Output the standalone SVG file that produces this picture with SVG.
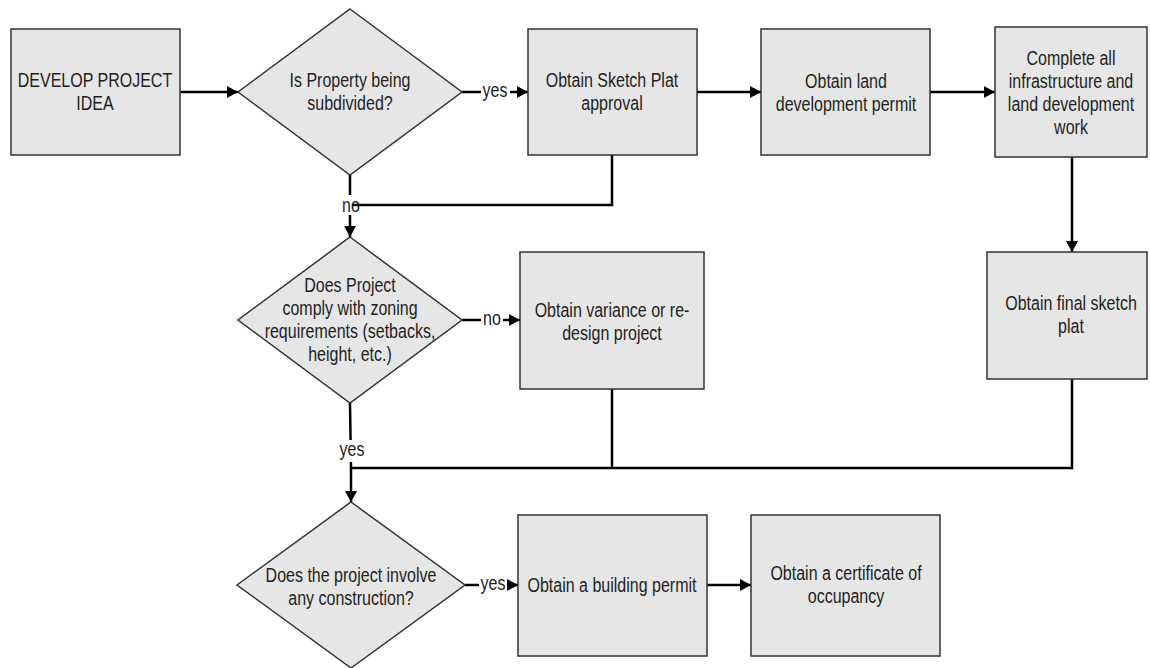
<svg xmlns="http://www.w3.org/2000/svg" width="1150" height="668" viewBox="0 0 1150 668">
<style>
.box{fill:#e6e6e6;stroke:#333;stroke-width:1.5}
.t{font-family:"Liberation Sans",Arial,sans-serif;font-size:20px;fill:#1e1e1e;text-anchor:middle}
.c{fill:none;stroke:#000;stroke-width:2.5}
.a{marker-end:url(#ah)}
.bg{fill:#fff}
</style>
<defs>
<marker id="ah" markerUnits="userSpaceOnUse" markerWidth="11" markerHeight="12" refX="11" refY="6" orient="auto">
<path d="M0,0 L11,6 L0,12 z" fill="#000"/>
</marker>
</defs>
<rect width="1150" height="668" fill="#fff"/>

<g id="connectors">
<line class="c a" x1="180" y1="92" x2="238" y2="92"/>
<line class="c a" x1="462" y1="92" x2="528" y2="92"/>
<line class="c a" x1="697" y1="92" x2="761" y2="92"/>
<line class="c a" x1="930" y1="92" x2="995" y2="92"/>
<line class="c a" x1="1072" y1="157" x2="1072" y2="252"/>
<line class="c a" x1="350" y1="175" x2="350" y2="237"/>
<rect class="bg" x="341" y="195" width="20" height="20"/>
<polyline class="c" points="612,155 612,205 352,205"/>
<line class="c a" x1="462" y1="320" x2="520" y2="320"/>
<polyline class="c a" points="350,403 351,468 351,502"/>
<line class="c" x1="612" y1="389" x2="612" y2="468"/>
<polyline class="c" points="1072,379 1072,468 351,468"/>
<line class="c a" x1="465" y1="585" x2="518" y2="585"/>
<line class="c a" x1="707" y1="585" x2="751" y2="585"/>
<rect class="bg" x="481" y="83" width="29" height="18"/>
<rect class="bg" x="481" y="311" width="22" height="18"/>
<rect class="bg" x="337" y="440" width="30" height="22"/>
<rect class="bg" x="479" y="576" width="28" height="18"/>
<text class="t" transform="translate(495 0) scale(0.8 1)"><tspan x="0" y="97">yes</tspan></text>
<text class="t" transform="translate(351 0) scale(0.8 1)"><tspan x="0" y="212">no</tspan></text>
<text class="t" transform="translate(492 0) scale(0.8 1)"><tspan x="0" y="325">no</tspan></text>
<text class="t" transform="translate(352 0) scale(0.8 1)"><tspan x="0" y="456">yes</tspan></text>
<text class="t" transform="translate(493 0) scale(0.8 1)"><tspan x="0" y="590">yes</tspan></text>
</g>

<g id="develop">
<rect class="box" x="11" y="29" width="169" height="126"/>
<text class="t" transform="translate(95 0) scale(0.8 1)"><tspan x="0" y="87">DEVELOP PROJECT</tspan><tspan x="0" y="110">IDEA</tspan></text>
</g>

<g id="subdivided">
<polygon class="box" points="350,9 462,92 350,175 238,92"/>
<text class="t" transform="translate(350 0) scale(0.8 1)"><tspan x="0" y="87">Is Property being</tspan><tspan x="0" y="110">subdivided?</tspan></text>
</g>

<g id="sketchplat">
<rect class="box" x="528" y="29" width="169" height="126"/>
<text class="t" transform="translate(612 0) scale(0.8 1)"><tspan x="0" y="87">Obtain Sketch Plat</tspan><tspan x="0" y="110">approval</tspan></text>
</g>

<g id="landpermit">
<rect class="box" x="761" y="29" width="169" height="126"/>
<text class="t" transform="translate(846 0) scale(0.8 1)"><tspan x="0" y="88">Obtain land</tspan><tspan x="0" y="111">development permit</tspan></text>
</g>

<g id="infrastructure">
<rect class="box" x="995" y="27" width="152" height="130"/>
<text class="t" transform="translate(1071 0) scale(0.8 1)"><tspan x="0" y="65">Complete all</tspan><tspan x="0" y="88">infrastructure and</tspan><tspan x="0" y="111">land development</tspan><tspan x="0" y="134">work</tspan></text>
</g>

<g id="finalplat">
<rect class="box" x="987" y="252" width="160" height="127"/>
<text class="t" transform="translate(1071 0) scale(0.8 1)"><tspan x="0" y="310">Obtain final sketch</tspan><tspan x="0" y="333">plat</tspan></text>
</g>

<g id="zoning">
<polygon class="box" points="350,237 462,320 350,403 238,320"/>
<text class="t" transform="translate(350 0) scale(0.8 1)"><tspan x="0" y="292">Does Project</tspan><tspan x="0" y="315">comply with zoning</tspan><tspan x="0" y="338">requirements (setbacks,</tspan><tspan x="0" y="361">height, etc.)</tspan></text>
</g>

<g id="variance">
<rect class="box" x="520" y="252" width="184" height="137"/>
<text class="t" transform="translate(612 0) scale(0.8 1)"><tspan x="0" y="317">Obtain variance or re-</tspan><tspan x="0" y="340">design project</tspan></text>
</g>

<g id="construction">
<polygon class="box" points="351,502 465,585 351,668 237,585"/>
<text class="t" transform="translate(351 0) scale(0.8 1)"><tspan x="0" y="582">Does the project involve</tspan><tspan x="0" y="605">any construction?</tspan></text>
</g>

<g id="building">
<rect class="box" x="518" y="515" width="189" height="141"/>
<text class="t" transform="translate(612 0) scale(0.8 1)"><tspan x="0" y="592">Obtain a building permit</tspan></text>
</g>

<g id="certificate">
<rect class="box" x="751" y="515" width="189" height="141"/>
<text class="t" transform="translate(846 0) scale(0.8 1)"><tspan x="0" y="580">Obtain a certificate of</tspan><tspan x="0" y="603">occupancy</tspan></text>
</g>
</svg>
